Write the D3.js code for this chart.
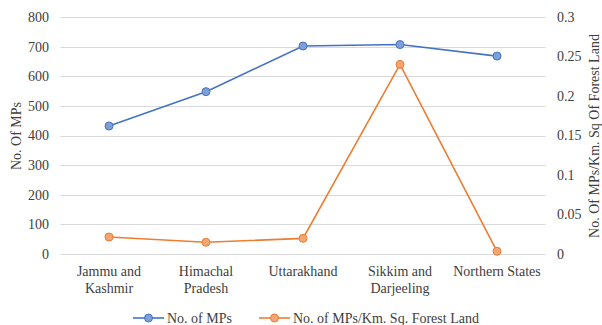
<!DOCTYPE html>
<html><head><meta charset="utf-8">
<script src="https://cdn.jsdelivr.net/npm/d3@7"></script>
<style>body{margin:0;background:#fff}svg{display:block}</style>
</head><body>
<script>
const categories = [["Jammu and","Kashmir"],["Himachal","Pradesh"],["Uttarakhand"],["Sikkim and","Darjeeling"],["Northern States"]];
const mps = [432, 548, 702, 707, 668];
const mpsPerKm = [0.0215, 0.0148, 0.0198, 0.240, 0.0034];
const leftTicks = [0,100,200,300,400,500,600,700,800];
const rightTicks = [0,0.05,0.1,0.15,0.2,0.25,0.3];
const seriesNames = ["No. of MPs","No. of MPs/Km. Sq. Forest Land"];

(function(){
const FONT="'Liberation Serif'";
const FS="14px", TXT="#404040";
const W=602,H=325;
const svg=d3.select("body").append("svg").attr("width",W).attr("height",H);
const pl=60.5,pr=545.5,pt=17,pb=254;
const x=d3.scaleBand().domain(d3.range(categories.length)).range([pl,pr]);
const yL=d3.scaleLinear().domain([0,800]).range([pb,pt]);
const yR=d3.scaleLinear().domain([0,0.3]).range([pb,pt]);
const st=s=>s.style("font-family",FONT).style("font-size",FS).attr("fill",TXT);

svg.append("g").selectAll("line").data(leftTicks).join("line")
  .attr("x1",pl).attr("x2",pr).attr("y1",d=>Math.round(yL(d))+0.5).attr("y2",d=>Math.round(yL(d))+0.5)
  .attr("stroke","#d9d9d9").attr("stroke-width",1);

const axL=svg.append("g").attr("transform",`translate(49,0)`).call(d3.axisLeft(yL).tickValues(leftTicks).tickSize(0).tickPadding(0).tickFormat(d3.format("d")));
axL.select(".domain").remove();
axL.attr("font-family",null);
st(axL.selectAll("text"));

const axR=svg.append("g").attr("transform",`translate(557,0)`).call(d3.axisRight(yR).tickValues(rightTicks).tickSize(0).tickPadding(0).tickFormat(d=>String(d)));
axR.select(".domain").remove();
axR.attr("font-family",null);
st(axR.selectAll("text"));

st(svg.append("text").attr("transform",`translate(21,136) rotate(-90)`).attr("text-anchor","middle").text("No. Of MPs"));
st(svg.append("text").attr("transform",`translate(599,136) rotate(-90)`).attr("text-anchor","middle").text("No. Of MPs/Km. Sq Of Forest Land"));

const cx=i=>x(i)+x.bandwidth()/2;
const cat=svg.append("g").selectAll("text").data(categories).join("text")
  .attr("x",(d,i)=>cx(i)).attr("y",276).attr("text-anchor","middle");
st(cat);
cat.each(function(d,i){
  d3.select(this).selectAll("tspan").data(d).join("tspan").attr("x",cx(i)).attr("dy",(t,j)=>j===0?0:16.5).text(t=>t);
});

const colors=["#4472C4","#ED7D31"], fills=["#7f9fd8","#f3a574"];
function series(vals,y,k){
  const line=d3.line().x((d,i)=>cx(i)).y(d=>y(d));
  svg.append("path").datum(vals).attr("d",line).attr("fill","none").attr("stroke",colors[k]).attr("stroke-width",1.6);
  svg.append("g").selectAll("circle").data(vals).join("circle").attr("cx",(d,i)=>cx(i)).attr("cy",d=>y(d)).attr("r",4)
    .attr("fill",fills[k]).attr("stroke",colors[k]).attr("stroke-width",1);
}
series(mps,yL,0);
series(mpsPerKm,yR,1);

const leg=[{x:133,tx:167},{x:259,tx:293}];
leg.forEach((l,k)=>{
  svg.append("line").attr("x1",l.x).attr("x2",l.x+31).attr("y1",318).attr("y2",318).attr("stroke",colors[k]).attr("stroke-width",1.6);
  svg.append("circle").attr("cx",l.x+15.5).attr("cy",318).attr("r",4).attr("fill",fills[k]).attr("stroke",colors[k]);
  st(svg.append("text").attr("x",l.tx).attr("y",322.5).text(seriesNames[k]));
});
})();
</script>
</body></html>
